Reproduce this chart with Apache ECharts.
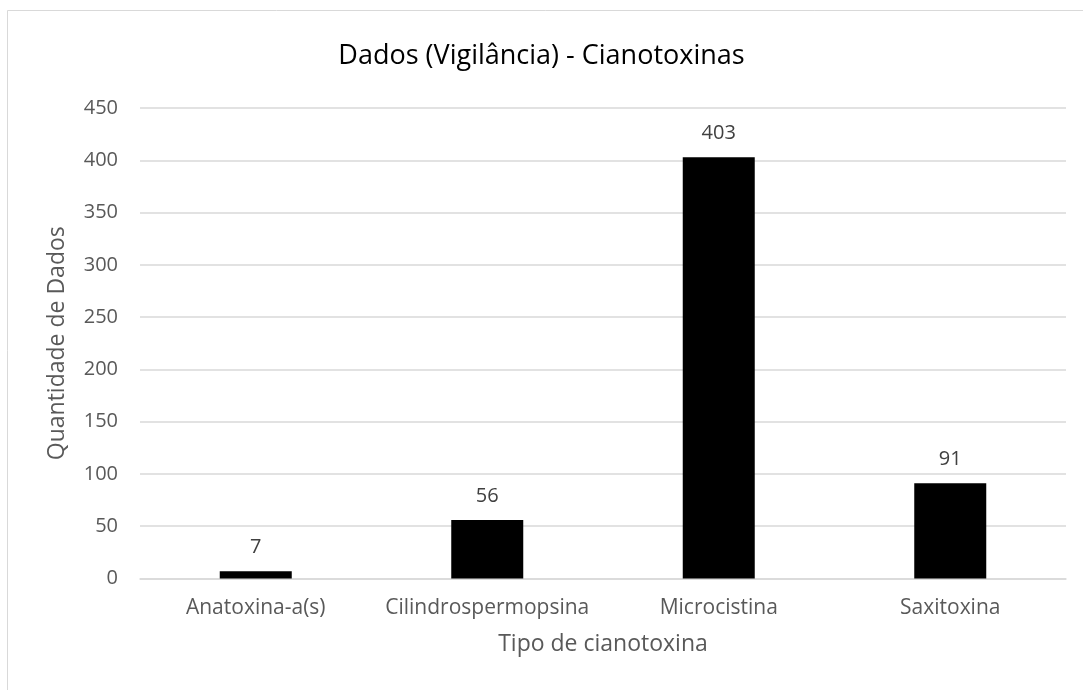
<!DOCTYPE html>
<html>
<head>
<meta charset="utf-8">
<script src="https://cdn.jsdelivr.net/npm/echarts@6/dist/echarts.min.js"></script>
<style>
  html, body { margin: 0; padding: 0; background: #fff; }
  #chart { width: 1083px; height: 690px; }
</style>
</head>
<body>
<div id="chart"></div>
<script>
const categories = ['Anatoxina-a(s)', 'Cilindrospermopsina', 'Microcistina', 'Saxitoxina'];
const counts = [7, 56, 403, 91];
const yTicks = [0, 50, 100, 150, 200, 250, 300, 350, 400, 450];

const font = '"Open Sans", "Noto Sans", sans-serif';
const chart = echarts.init(document.getElementById('chart'));

chart.setOption({
  animation: false,
  backgroundColor: '#ffffff',
  title: {
    text: 'Dados (Vigilância) - Cianotoxinas',
    left: 'center',
    top: 38,
    textStyle: { fontFamily: font, fontSize: 27, fontWeight: 'normal', color: '#000000' }
  },
  graphic: [{
    type: 'rect',
    shape: { x: 7.5, y: 10.5, width: 1100, height: 700 },
    style: { fill: 'none', stroke: '#d9d9d9', lineWidth: 1 },
    silent: true
  }],
  grid: { left: 140, right: 17, top: 108, bottom: 111.5 },
  xAxis: {
    type: 'category',
    data: categories,
    name: 'Tipo de cianotoxina',
    nameLocation: 'middle',
    nameGap: 54,
    nameTextStyle: { fontFamily: font, fontSize: 23, color: '#595959' },
    axisLine: { show: true, lineStyle: { color: '#d9d9d9', width: 1.5 } },
    axisTick: { show: false },
    axisLabel: {
      interval: 0,
      hideOverlap: false,
      fontFamily: font,
      fontSize: 21,
      color: '#595959',
      margin: 19
    }
  },
  yAxis: {
    type: 'value',
    min: yTicks[0],
    max: yTicks[yTicks.length - 1],
    interval: 50,
    name: 'Quantidade de Dados',
    nameLocation: 'middle',
    nameGap: 71,
    nameTextStyle: { fontFamily: font, fontSize: 23, color: '#595959' },
    axisLine: { show: false },
    axisTick: { show: false },
    axisLabel: { fontFamily: font, fontSize: 20, color: '#595959', margin: 22 },
    splitLine: { lineStyle: { color: '#d9d9d9', width: 1.5 } }
  },
  series: [{
    type: 'bar',
    data: counts,
    barWidth: 72,
    itemStyle: { color: '#000000' },
    label: {
      show: true,
      position: 'top',
      distance: 14,
      fontFamily: font,
      fontSize: 20,
      color: '#404040'
    }
  }]
});
</script>
</body>
</html>
